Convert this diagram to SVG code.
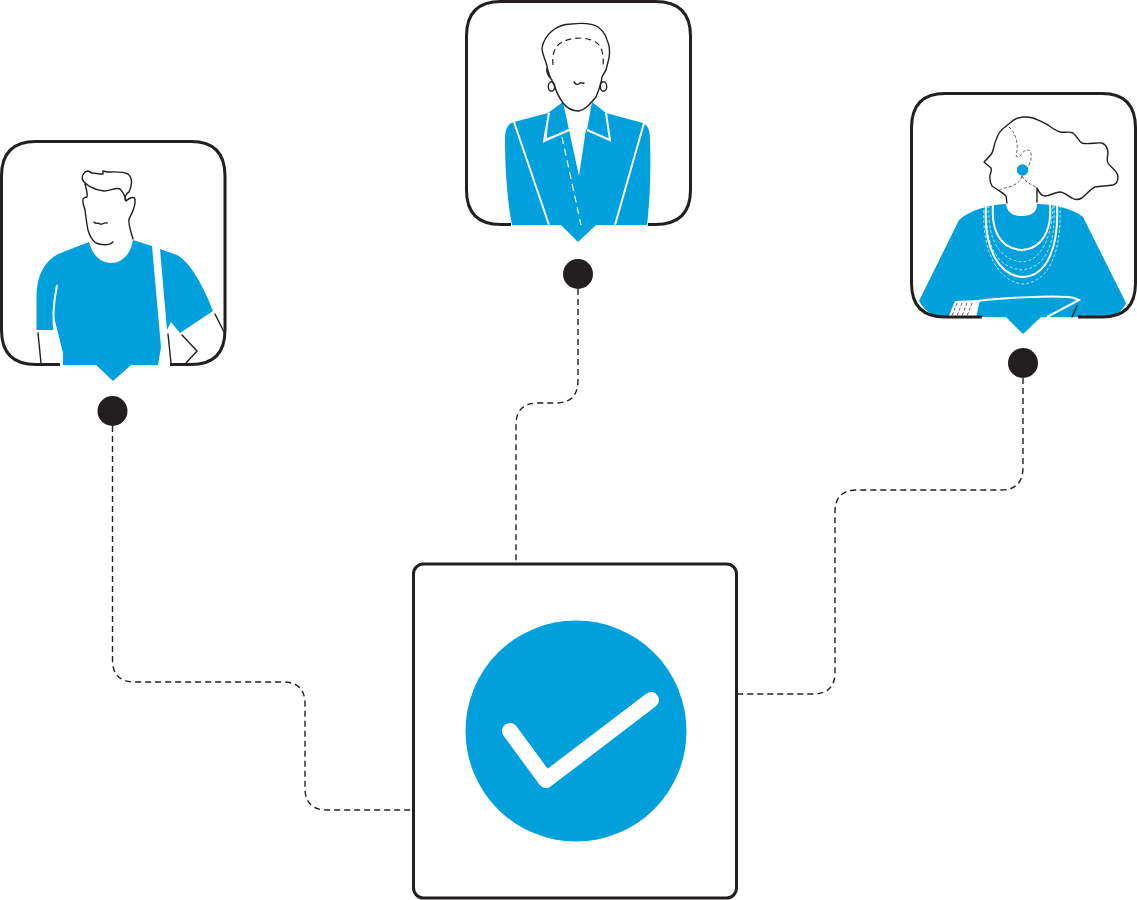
<svg xmlns="http://www.w3.org/2000/svg" width="1137" height="900" viewBox="0 0 1137 900">
<style>
.card{fill:none;stroke:#231f20;stroke-width:3;stroke-linecap:butt}
.ink{fill:none;stroke:#231f20;stroke-width:1.4;stroke-linecap:round;stroke-linejoin:round}
.inkd{fill:none;stroke:#231f20;stroke-width:1.2;stroke-dasharray:6 4}
.inkt{fill:none;stroke:#231f20;stroke-width:.7;stroke-dasharray:3 2}
.blue{fill:#00a0dc}
.wl{fill:none;stroke:#fff;stroke-width:2}
.wd{fill:none;stroke:#fff;stroke-width:1.2;stroke-dasharray:7 5}
.wt{fill:none;stroke:#fff;stroke-width:.7;stroke-dasharray:3 2}
.dot{fill:#231f20}
.conn{fill:none;stroke:#231f20;stroke-width:1.4;stroke-dasharray:6 4}
</style>
<g id="connectors">
<path class="conn" d="M112.500 426V660Q112.500 682 135 682H283Q305 682 305 704V788Q305 810 327 810H411"/>
<path class="conn" d="M578 289V380Q578 403 556 403H538Q516 403 516 425V563"/>
<path class="conn" d="M1023 378V467Q1023 490 1001 490H857Q835 490 835 512V672Q835 694 813 694H738"/>
</g>
<g id="man">
<path class="card" d="M60 364.500H36Q1.500 364.500 1.500 330V176Q1.500 141.500 36 141.500H191Q225 141.500 225 176V330Q225 364.500 191 364.500H170"/>
<path class="ink" d="M38 333L41 363M168 334L171 363M182 335L197 351L186 363M215 314L224 332"/>
<path class="blue" d="M89 242L58 254C44 262 37 275 36.500 296V330H54C53 322 53 312 54 300L57 285L53 313L63 353V365H96L113 381L131 365H158L161 347L152 246L133 240C131 254 122 263 111 263C100 263 92 254 89 242Z"/>
<path class="blue" d="M160 249L177 255C190 262 203 285 213 311L180 333L171 322L167 330Z"/>
<path class="wl" d="M57 285C53 305 52 320 55 335"/>
<path class="ink" d="M133 239C131 232 128 224 129 219C132 213 136 207 135 199C134 196 129 198 126 201C123 198 127 193 129 192C132 186 133 178 128 174C122 171 113 172 107 172L103 171L103 174C99 174 95 173 92 173L88 171L85 172C82 175 81 179 84 182C89 187 96 190 104 191C110 191 116 187 120 189C123 192 125 196 126 201M85 184C86 188 88 194 87 197C84 197 82 199 83 202C83 206 85 208 85 210C86 218 87 226 88 230C90 237 93 241 96 243C100 245 109 246 113 242M94 222C96 225 98 222 100 224C102 225 104 222 107 223"/>
</g>
<circle id="man-dot" class="dot" cx="112.500" cy="411" r="15"/>
<g id="woman">
<path class="blue" d="M514 122L548 113L545 140L569 130L579 176L586 129L610 140L606 113L643 123C649 126 650 132 650 140C651 170 650 200 647 225H596L578 242L561 225H512C507 200 505 165 505 140C505 130 507 124 514 122Z"/>
<path class="blue" d="M548 113L563 102L569 130L547 138ZM592 102L606 113L610 140L587 130Z"/>
<path class="wl" d="M514 122L549 225M644 123L615 225M549 113L544 141L569 130M606 113L610 140L587 130"/>
<path class="wd" d="M562 137L581 225"/>
<path class="card" d="M511 224.500H501Q466.500 224.500 466.500 190V36Q466.500 1.500 501 1.500H655Q690.500 1.500 690.500 36V190Q690.500 224.500 655 224.500H648"/>
<path class="ink" d="M547 66C545 58 542 54 542 48C543 42 546 36 552 31C558 26 564 24 571 24C580 23 592 23 598 27C603 31 606 35 607 40C610 46 610 52 609 58C608 62 607 66 606 70C604 73 603 75 602 77C601 85 598 92 596 97C590 104 585 110 579 111C572 111 566 107 563 103C559 97 556 92 555 87C552 81 548 74 547 66ZM547 68C546 72 548 76 552 80M574 82C576 85 578 85 580 83C581 82 582 84 584 83"/>
<path class="inkd" d="M553 65C552 56 554 50 557 46C563 40 572 38 582 38C590 39 596 41 599 45C602 49 604 56 603 66"/>
<ellipse class="ink" cx="551.500" cy="86.500" rx="3.200" ry="4.800"/>
<ellipse class="ink" cx="603.500" cy="86.500" rx="3.200" ry="4.800"/>
</g>
<circle id="woman-dot" class="dot" cx="578" cy="274" r="15"/>
<g id="elder">
<path class="blue" d="M1006 204C1007 212 1012 216 1022 216C1032 216 1037 212 1037 204C1052 204 1072 208 1083 217L1126 303Q1120 317 1102 317H1041L1023 334L1006 317H945Q928 317 919 301L959 220C970 210 988 205 1006 204Z"/>
<path class="wl" d="M993 205C991 230 1000 249 1022 250C1042 249 1052 230 1050 205M986 205C983 250 1000 276 1023 277C1048 276 1059 245 1057 205"/>
<path class="wt" d="M989 205C987 240 1000 260 1022 262C1040 261 1052 240 1053 205M984 205C981 255 1000 282 1023 284C1050 282 1062 250 1060 205M987 205C984 250 1000 268 1022 270C1045 268 1056 245 1054 205"/>
<path fill="#fff" d="M955 301L980 300L976 318L948 318Z"/>
<path class="wl" d="M978 301C1010 297 1050 296 1068 297C1073 297 1077 299 1079 300L1047 317"/>
<path class="inkt" d="M957 303L952 316M962 303L957 316M967 303L962 316M972 303L967 316"/>
<path class="ink" d="M1077 306L1072 317"/>
<path class="card" d="M982 317H945Q911.500 317 911.500 283V128Q911.500 93.500 945 93.500H1102Q1135.500 93.500 1135.500 128V283Q1135.500 317 1102 317H1078"/>
<path class="ink" d="M1007 203L1006 196C1003 193 1001 192 998 190L992 186C989 181 990 178 990 175C991 172 992 170 991 168C989 166 986 164 984 162C987 159 990 156 992 153C994 149 994 144 996 140C998 134 1002 129 1005 127C1010 123 1014 119 1018 118C1024 116 1029 117 1033 118C1039 120 1044 123 1048 125C1052 128 1056 131 1060 132C1064 133 1069 131 1073 133C1077 136 1078 141 1082 143C1088 145 1096 142 1102 143C1107 145 1108 150 1108 154C1107 158 1107 161 1108 163C1111 168 1118 171 1118 177C1118 182 1116 184 1113 185C1106 186 1100 186 1095 187C1090 189 1086 195 1082 198C1078 200 1075 200 1072 198C1068 196 1064 192 1060 192C1055 192 1050 196 1045 196C1041 196 1039 192 1037 188V202"/>
<path class="inkt" d="M1009 127C1015 132 1018 142 1017 150C1016 155 1015 160 1021 155C1024 149 1031 148 1031 154C1032 160 1029 166 1026 170M1022 176C1020 184 1012 186 1005 188C1000 189 1000 190 997 191M1022 176C1025 182 1030 184 1036 187"/>
<circle class="blue" cx="1022.500" cy="170" r="5.700"/>
</g>
<circle id="elder-dot" class="dot" cx="1023" cy="363" r="15"/>
<g id="check">
<rect x="413.500" y="564" width="323" height="334" rx="10" fill="none" stroke="#231f20" stroke-width="3"/>
<circle class="blue" cx="576" cy="731" r="110.500"/>
<path fill="none" stroke="#fff" stroke-width="16" stroke-linecap="round" stroke-linejoin="round" d="M510 731L546 780L651 700"/>
</g>
</svg>
